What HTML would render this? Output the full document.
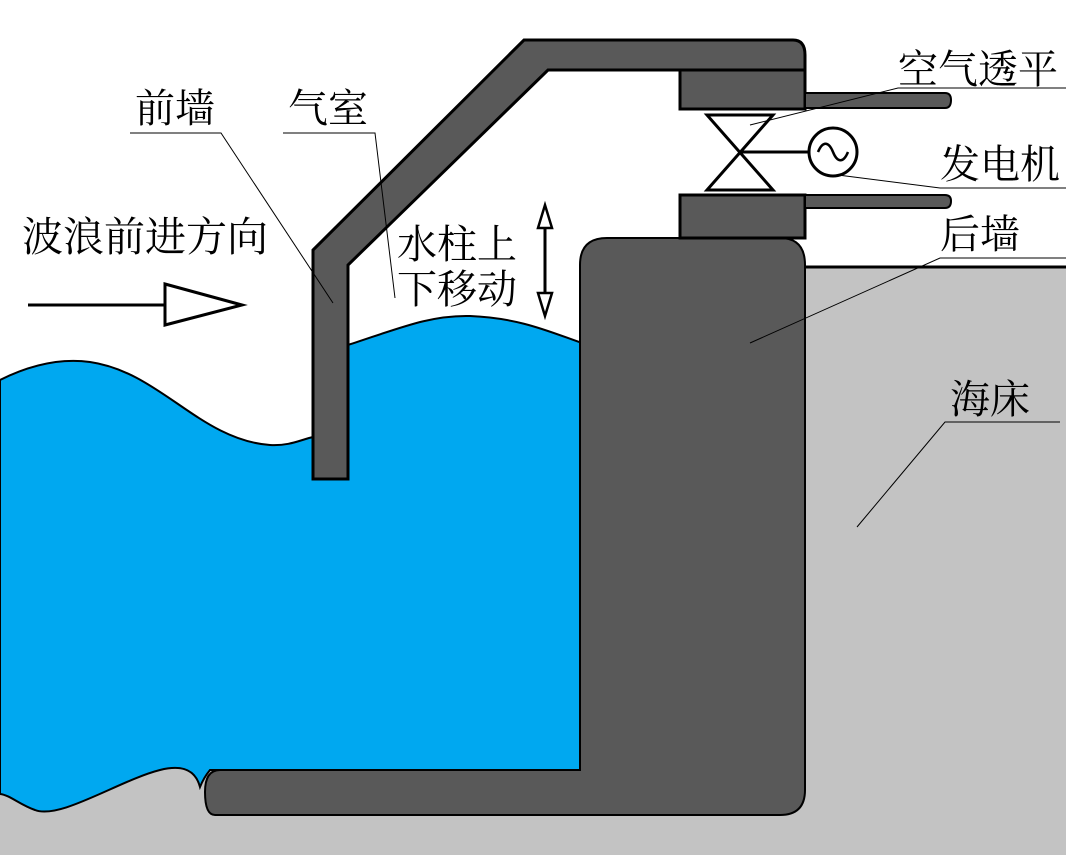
<!DOCTYPE html>
<html><head><meta charset="utf-8"><style>
html,body{margin:0;padding:0;background:#fff}
svg{display:block}
text{font-family:"Liberation Sans","Noto Serif CJK SC","Noto Sans CJK SC",serif;fill:#000}
</style></head><body>
<svg width="1066" height="855" viewBox="0 0 1066 855" xmlns="http://www.w3.org/2000/svg">
<rect width="1066" height="855" fill="#fff"/>
<!-- seabed -->
<path d="M805 267 L1066 267 L1066 855 L0 855 L0 760 L805 760 Z" fill="#c3c3c3"/>
<line x1="805" y1="267" x2="1066" y2="267" stroke="#000" stroke-width="3"/>
<!-- water -->
<path d="M0 380 C30 365 60 358 90 362 C160 372 200 440 270 445 C290 446 300 440 313 437 L313 479 L348 479 L348 345 C400 328 430 315 470 316 C520 318 550 332 582 343 L582 770 L210 770 C205 776 202 782 200 787 C195 768 180 765 160 770 C120 780 60 820 35 810 C20 805 10 795 0 794 Z" fill="#00a8f0" stroke="#000" stroke-width="2"/>
<!-- back wall + floor -->
<path d="M580 265 Q580 238 607 238 L780 238 Q805 238 805 265 L805 790 Q805 815 780 815 L215 815 Q205 815 205 792 Q205 770 220 770 L580 770 Z" fill="#595959" stroke="#000" stroke-width="2"/>
<!-- front wall + roof -->
<path d="M313 479 L313 250 L524 40 L793 40 Q805 40 805 55 L805 70 L548 70 L348 265 L348 479 Z" fill="#595959" stroke="#000" stroke-width="3"/>
<!-- upper block + pipe -->
<rect x="680" y="70" width="125" height="39" fill="#595959" stroke="#000" stroke-width="3"/>
<path d="M805 93 L945 93 Q951 93 951 100 Q951 108 945 108 L805 108 Z" fill="#595959" stroke="#000" stroke-width="2"/>
<!-- lower block + pipe -->
<rect x="680" y="195" width="125" height="43" fill="#595959" stroke="#000" stroke-width="3"/>
<path d="M805 195 L945 195 Q951 195 951 201 Q951 208 945 208 L805 208 Z" fill="#595959" stroke="#000" stroke-width="2"/>
<!-- valve -->
<path d="M707 115 L773 115 L707 190 L773 190 Z" fill="#fff" stroke="#000" stroke-width="3" stroke-linejoin="miter"/>
<line x1="740" y1="152" x2="809" y2="152" stroke="#000" stroke-width="3"/>
<circle cx="833" cy="152" r="24" fill="#fff" stroke="#000" stroke-width="3"/>
<path d="M818 152 C823 140 829 142 833 152 C837 162 843 164 848 152" fill="none" stroke="#000" stroke-width="2.5"/>
<!-- wave arrow -->
<line x1="28" y1="305" x2="165" y2="305" stroke="#000" stroke-width="3"/>
<path d="M165 284 L242 305 L165 325 Z" fill="#fff" stroke="#000" stroke-width="3"/>
<!-- vertical arrow -->
<line x1="545" y1="220" x2="545" y2="306" stroke="#000" stroke-width="3"/>
<path d="M545 205 L538 228 L552 228 Z" fill="#fff" stroke="#000" stroke-width="2.5"/>
<path d="M545 316 L538 293 L552 293 Z" fill="#fff" stroke="#000" stroke-width="2.5"/>
<!-- leader lines -->
<g stroke="#000" stroke-width="1" fill="none">
<polyline points="130,133 221,133 333,303"/>
<polyline points="283,133 375,133 395,298"/>
<polyline points="1066,88 898,88 750,125"/>
<polyline points="1066,188 940,188 838,175"/>
<polyline points="1066,258 940,258 750,343"/>
<polyline points="1060,422 945,422 857,527"/>
</g>
<!-- labels -->
<g font-size="40">
<text x="135" y="122">前墙</text>
<text x="288" y="122">气室</text>
<text x="22" y="251" font-size="41">波浪前进方向</text>
<text x="397" y="258">水柱上</text>
<text x="397" y="303">下移动</text>
<text x="898" y="83">空气透平</text>
<text x="940" y="178">发电机</text>
<text x="940" y="248">后墙</text>
<text x="950" y="413">海床</text>
</g>
</svg>
</body></html>
